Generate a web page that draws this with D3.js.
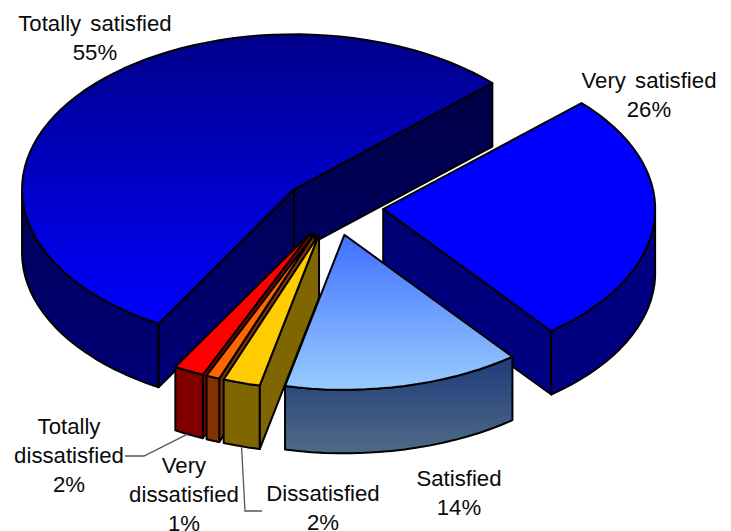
<!DOCTYPE html>
<html>
<head>
<meta charset="utf-8">
<script src="https://cdn.jsdelivr.net/npm/d3@7"></script>
<style>
  html, body { margin: 0; padding: 0; background: #fff; }
  text { font-family: "Liberation Sans", Arial, sans-serif; font-size: 22.2px; word-spacing: 3px; fill: #0a0a0a; text-anchor: middle; }
</style>
</head>
<body>
<div id="chart"></div>
<script>
// drawn clockwise starting from the upper right edge of "Very satisfied"
const categories = ["Very satisfied", "Satisfied", "Dissatisfied", "Very dissatisfied", "Totally dissatisfied", "Totally satisfied"];
const values = [26.4, 14.1, 2.2, 0.8, 1.8, 54.7];
const topColors = [["#0000ff", "#0000ff"], ["#3f6fff", "#99ccff"], ["#ffcc00", "#ffcc00"], ["#ff6600", "#ff6600"], ["#ff0000", "#ff0000"], ["#00008a", "#0000ff"]];
const wallColors = [["#000080", "#000080"], ["#1f3a7c", "#4f6b85"], ["#806600", "#806600"], ["#803300", "#803300"], ["#800000", "#800000"], ["#000056", "#000078"]];
const cutColors = [["#00006a", "#000084"], ["#000070", "#000070"], ["#806600", "#806600"], ["#803300", "#803300"], ["#800000", "#800000"], ["#00003c", "#000078"]];
const paintOrder = [5, 0, 1, 4, 3, 2];

const width = 731;
const height = 531;
const explode = 0.184;
const depth = 63.5;

// pie plane (unit circle) onto the page
const x = d3.scaleLinear().domain([-1, 1]).range([333.3 - 272, 333.3 + 272]);
const y = d3.scaleLinear().domain([-1, 1]).range([207 + 155, 207 - 155]);

const pie = d3.pie().sort(null).startAngle((46.8 * Math.PI) / 180).endAngle((406.8 * Math.PI) / 180);
const slices = pie(values);

const svg = d3.select("#chart").append("svg").attr("width", width).attr("height", height);
const defs = svg.append("defs");

function gradient(id, stops, y1, y2) {
  const g = defs.append("linearGradient").attr("id", id).attr("gradientUnits", "userSpaceOnUse")
    .attr("x1", 0).attr("x2", 0).attr("y1", y1).attr("y2", y2);
  g.append("stop").attr("offset", 0).attr("stop-color", stops[0]);
  g.append("stop").attr("offset", 1).attr("stop-color", stops[1]);
  return `url(#${id})`;
}

// d3 pie angle: clockwise from twelve o'clock
const px = (d, a, r = 1) => {
  const mid = (d.startAngle + d.endAngle) / 2;
  return x(explode * Math.sin(mid) + r * Math.sin(a));
};
const py = (d, a, r = 1) => {
  const mid = (d.startAngle + d.endAngle) / 2;
  return y(explode * Math.cos(mid) + r * Math.cos(a));
};

const line = d3.line();
const closed = (pts) => line(pts) + "Z";

function rim(d) {
  const n = Math.max(2, Math.ceil((d.endAngle - d.startAngle) / 0.05));
  return d3.range(n + 1).map((i) => d.startAngle + ((d.endAngle - d.startAngle) * i) / n);
}

function drawSlice(d, i) {
  const g = svg.append("g").attr("stroke", "#000").attr("stroke-width", 2).attr("stroke-linejoin", "round");
  const apex = [px(d, 0, 0), py(d, 0, 0)];
  const angles = rim(d);
  const outer = angles.map((a) => [px(d, a), py(d, a)]);
  const ys = outer.map((p) => p[1]).concat(apex[1]);
  const yMin = d3.min(ys);
  const yMax = d3.max(ys);
  const cutFill = gradient(`cut${i}`, cutColors[i], yMin, yMax + depth);

  // cut faces, only the ones turned towards the viewer
  [d.startAngle, d.endAngle].forEach((a, k) => {
    const normal = k === 0 ? a - Math.PI / 2 : a + Math.PI / 2;
    if (Math.cos(normal) >= 0) return;
    const p = [px(d, a), py(d, a)];
    g.append("path")
      .attr("d", closed([apex, p, [p[0], p[1] + depth], [apex[0], apex[1] + depth]]))
      .attr("fill", cutFill);
  });

  // outer wall, split where the rim turns away at the left and right of the ellipse
  const front = [];
  angles.forEach((a) => {
    if (Math.cos(a) <= 0) front.push([px(d, a), py(d, a)]);
  });
  if (front.length > 1) {
    const lower = front.map((p) => [p[0], p[1] + depth]).reverse();
    g.append("path")
      .attr("d", closed(front.concat(lower)))
      .attr("fill", gradient(`wall${i}`, wallColors[i], d3.min(front, (p) => p[1]), d3.max(lower, (p) => p[1])));
  }

  g.append("path")
    .attr("d", closed([apex].concat(outer)))
    .attr("fill", gradient(`top${i}`, topColors[i], yMin, yMax));
}

paintOrder.forEach((i) => drawSlice(slices[i], i));

// leader lines, from the lower rim of the slice to the label
const leaders = [
  { slice: 4, at: 0.55, path: [[144, 456], [125, 456]] },
  { slice: 2, at: 0.5, path: [[245, 511], [262, 511]] }
];
leaders.forEach((l) => {
  const d = slices[l.slice];
  const a = d.startAngle + (d.endAngle - d.startAngle) * l.at;
  const start = [px(d, a), py(d, a) + depth];
  svg.append("path")
    .attr("d", line([start].concat(l.path)))
    .attr("fill", "none")
    .attr("stroke", "#555")
    .attr("stroke-width", 1.3);
});

// labels
const labelLines = [["Very satisfied"], ["Satisfied"], ["Dissatisfied"], ["Very", "dissatisfied"], ["Totally", "dissatisfied"], ["Totally satisfied"]];
const labelAt = [[649, 88], [459, 486], [323, 501], [184, 473], [69, 434], [95, 31]];
categories.forEach((c, i) => {
  const t = svg.append("text").attr("aria-label", c);
  const rows = labelLines[i].concat(d3.format(".0f")(values[i]) + "%");
  rows.forEach((r, k) => {
    t.append("tspan").attr("x", labelAt[i][0]).attr("y", labelAt[i][1] + k * 28.8).text(r);
  });
});
</script>
</body>
</html>
